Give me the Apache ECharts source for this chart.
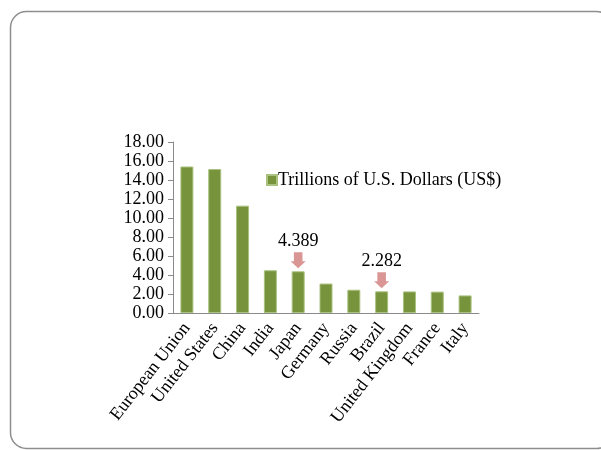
<!DOCTYPE html>
<html>
<head>
<meta charset="utf-8">
<style>
  html, body { margin: 0; padding: 0; background: #ffffff; }
  #chart { width: 601px; height: 450px; }
</style>
<script src="https://cdn.jsdelivr.net/npm/echarts@6/dist/echarts.min.js"></script>
</head>
<body>
<div id="chart"></div>
<script>
// GDP (PPP) by economy, trillions of US dollars
const countries = ['European Union', 'United States', 'China', 'India', 'Japan',
  'Germany', 'Russia', 'Brazil', 'United Kingdom', 'France', 'Italy'];
const gdpTrillions = [15.42, 15.15, 11.3, 4.5, 4.389, 3.1, 2.45, 2.282, 2.27, 2.25, 1.85];
const seriesName = 'Trillions of U.S. Dollars (US$)';
// economies highlighted with a callout arrow
const highlighted = ['Japan', 'Brazil'];

const serif = 'Liberation Serif';
const axisGrey = '#8a8a8a';

const callouts = highlighted.map(function (name) {
  const i = countries.indexOf(name);
  return { coord: [i, gdpTrillions[i]], value: gdpTrillions[i] };
});

const chart = echarts.init(document.getElementById('chart'), null, { renderer: 'canvas' });
chart.setOption({
  backgroundColor: '#ffffff',
  animation: false,
  graphic: [{
    type: 'rect',
    silent: true,
    shape: { x: 10.5, y: 11.5, width: 602, height: 437, r: 16 },
    style: { fill: 'none', stroke: '#8e8e8e', lineWidth: 1.5 }
  }],
  legend: {
    left: 261,
    top: 166,
    itemWidth: 10,
    itemHeight: 10,
    itemGap: 4,
    icon: 'rect',
    textStyle: { fontFamily: serif, fontSize: 18, color: '#000000', padding: [0, 0, 0, -4] },
    data: [seriesName]
  },
  grid: { left: 173, right: 122, top: 142, bottom: 137, containLabel: false },
  xAxis: {
    type: 'category',
    data: countries,
    axisLine: { lineStyle: { color: axisGrey, width: 1 } },
    axisTick: { alignWithLabel: false, length: 5, lineStyle: { color: axisGrey } },
    axisLabel: {
      interval: 0,
      rotate: 52,
      margin: 12,
      fontFamily: serif,
      fontSize: 18,
      color: '#000000'
    }
  },
  yAxis: {
    type: 'value',
    min: 0,
    max: 18,
    interval: 2,
    splitLine: { show: false },
    axisLine: { show: true, lineStyle: { color: axisGrey, width: 1 } },
    axisTick: { show: true, length: 5, lineStyle: { color: axisGrey } },
    axisLabel: {
      margin: 9,
      fontFamily: serif,
      fontSize: 18,
      color: '#000000',
      formatter: function (v) { return v.toFixed(2); }
    }
  },
  series: [{
    name: seriesName,
    type: 'bar',
    data: gdpTrillions,
    barWidth: 13,
    itemStyle: { color: '#77933c', borderColor: '#a9c27f', borderWidth: 1 },
    markPoint: {
      symbol: 'path://M3,0 L11,0 L11,9 L14,9 L7,16 L0,9 L3,9 Z',
      symbolSize: [15, 16],
      symbolOffset: [0, -11],
      itemStyle: { color: '#d99694' },
      label: {
        show: true,
        position: 'top',
        distance: 2,
        fontFamily: serif,
        fontSize: 18,
        color: '#000000',
        formatter: function (p) { return String(p.value); }
      },
      data: callouts
    }
  }]
});
</script>
</body>
</html>
